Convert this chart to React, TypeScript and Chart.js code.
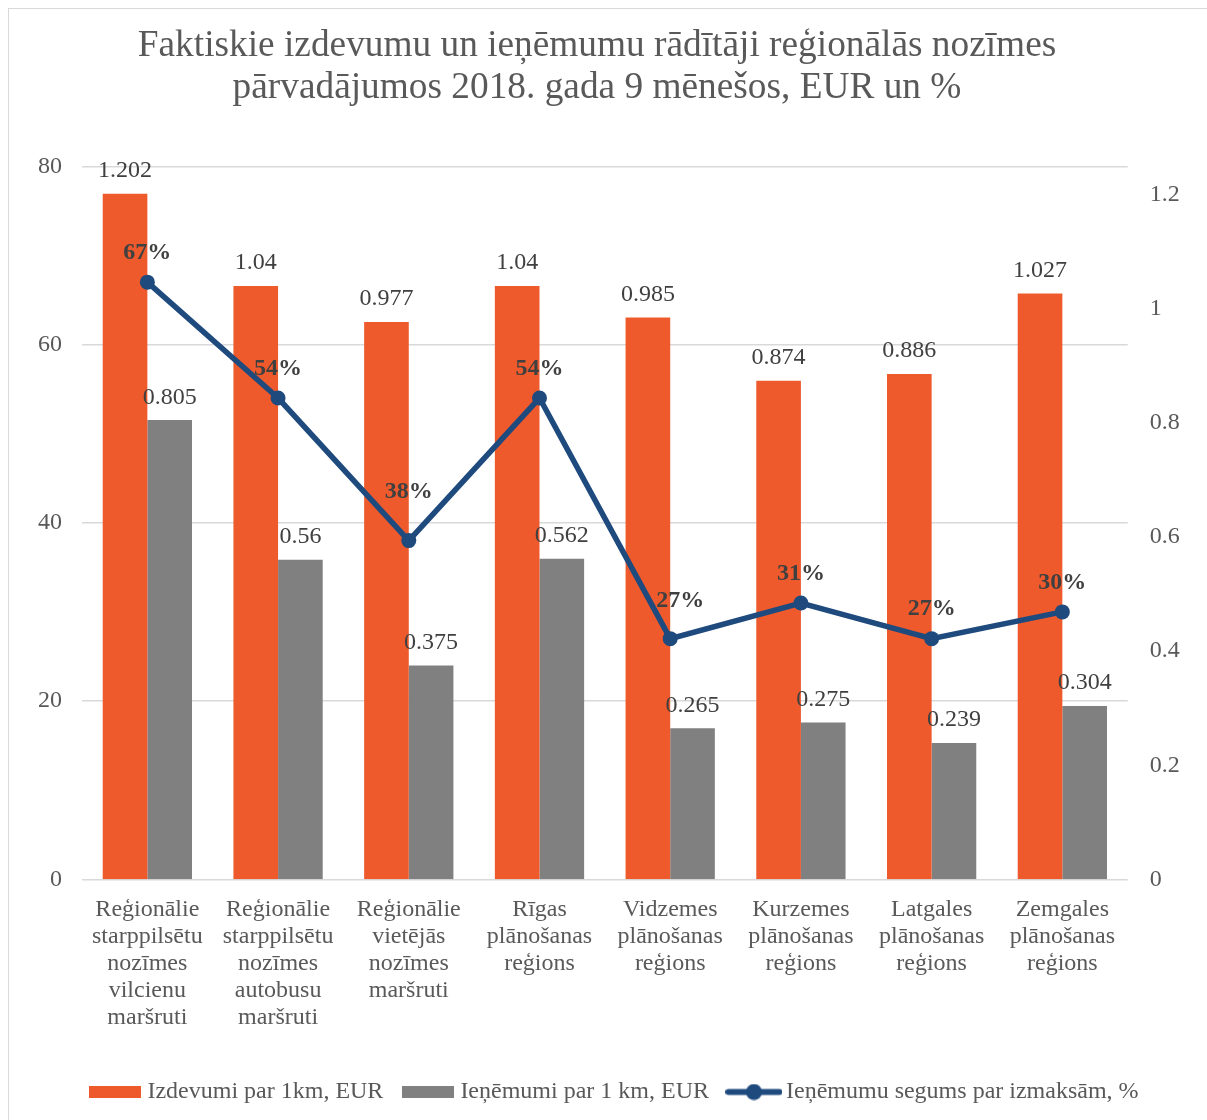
import React, { useEffect, useRef } from 'react';
import { Chart, registerables } from 'chart.js';

Chart.register(...registerables);

const titleLines: string[] = [
  'Faktiskie izdevumu un ieņēmumu rādītāji reģionālās nozīmes',
  'pārvadājumos 2018. gada 9 mēnešos, EUR un %',
];

const categories: string[][] = [
  ['Reģionālie', 'starppilsētu', 'nozīmes', 'vilcienu', 'maršruti'],
  ['Reģionālie', 'starppilsētu', 'nozīmes', 'autobusu', 'maršruti'],
  ['Reģionālie', 'vietējās', 'nozīmes', 'maršruti'],
  ['Rīgas', 'plānošanas', 'reģions'],
  ['Vidzemes', 'plānošanas', 'reģions'],
  ['Kurzemes', 'plānošanas', 'reģions'],
  ['Latgales', 'plānošanas', 'reģions'],
  ['Zemgales', 'plānošanas', 'reģions'],
];

const seriesNames: string[] = [
  'Izdevumi par 1km, EUR',
  'Ieņēmumi par 1 km, EUR',
  'Ieņēmumu segums par izmaksām, %',
];

const expenses: number[] = [1.202, 1.04, 0.977, 1.04, 0.985, 0.874, 0.886, 1.027];
const revenues: number[] = [0.805, 0.56, 0.375, 0.562, 0.265, 0.275, 0.239, 0.304];
const coverage: number[] = [67, 54, 38, 54, 27, 31, 27, 30];

const leftAxis = { min: 0, max: 80, step: 20 };
const rightAxis = { min: 0, max: 1.25, step: 0.2 };

// per-point placement of the % labels (as moved by hand in the original)
const pctLabelDx: number[] = [0, 0, 0, 0, 10, 0, 0, 0];
const pctLabelLift: number[] = [23.4, 23.4, 42.4, 23.4, 31.4, 23.4, 23.4, 23.4];

const ORANGE = '#EE5A2C';
const GRAY = '#808080';
const NAVY = '#1F4A7E';
const TEXT = '#595959';
const LABEL = '#404040';
const FONT = "'Liberation Serif', 'Times New Roman', serif";

function makeRect(color: string, w: number, h: number): HTMLCanvasElement {
  const c = document.createElement('canvas');
  c.width = w;
  c.height = h;
  const x = c.getContext('2d')!;
  x.fillStyle = color;
  x.fillRect(0, 0, w, h);
  return c;
}

function makeLineMarker(color: string): HTMLCanvasElement {
  const c = document.createElement('canvas');
  c.width = 57;
  c.height = 17;
  const x = c.getContext('2d')!;
  x.strokeStyle = color;
  x.lineWidth = 6;
  x.lineCap = 'round';
  x.beginPath();
  x.moveTo(3, 8.5);
  x.lineTo(54, 8.5);
  x.stroke();
  x.fillStyle = color;
  x.beginPath();
  x.arc(28.5, 8.5, 8, 0, Math.PI * 2);
  x.fill();
  return c;
}

const valueLabels = {
  id: 'valueLabels',
  afterDatasetsDraw(chart: any) {
    const ctx = chart.ctx;
    ctx.save();
    ctx.textAlign = 'center';
    ctx.textBaseline = 'alphabetic';
    chart.data.datasets.forEach((ds: any, di: number) => {
      const meta = chart.getDatasetMeta(di);
      if (meta.hidden) return;
      meta.data.forEach((el: any, i: number) => {
        const v = ds.data[i];
        if (ds.type === 'line') {
          ctx.font = `bold 24px ${FONT}`;
          ctx.fillStyle = LABEL;
          ctx.fillText(`${v}%`, el.x + pctLabelDx[i], el.y - pctLabelLift[i]);
        } else {
          ctx.font = `24px ${FONT}`;
          ctx.fillStyle = LABEL;
          ctx.fillText(String(v), el.x, el.y - 16.6);
        }
      });
    });
    ctx.restore();
  },
};

// shifts the legend row horizontally to sit where the reference has it
const legendShift = {
  id: 'legendShift',
  afterLayout(chart: any) {
    const lg = chart.legend;
    if (lg) {
      lg.left += 20;
      lg.right += 20;
    }
  },
};

export default function App() {
  const ref = useRef<HTMLCanvasElement | null>(null);

  useEffect(() => {
    if (!ref.current) return;
    const markers = [makeRect(ORANGE, 52, 12), makeRect(GRAY, 52, 12), makeLineMarker(NAVY)];
    const chart = new Chart(ref.current, {
      type: 'bar',
      data: {
        labels: categories,
        datasets: [
          {
            type: 'bar',
            label: seriesNames[0],
            data: expenses,
            backgroundColor: ORANGE,
            borderWidth: 0,
            yAxisID: 'y1',
            categoryPercentage: 0.683,
            barPercentage: 1,
            order: 1,
          },
          {
            type: 'bar',
            label: seriesNames[1],
            data: revenues,
            backgroundColor: GRAY,
            borderWidth: 0,
            yAxisID: 'y1',
            categoryPercentage: 0.683,
            barPercentage: 1,
            order: 1,
          },
          {
            type: 'line',
            label: seriesNames[2],
            data: coverage,
            borderColor: NAVY,
            backgroundColor: NAVY,
            borderWidth: 5.5,
            pointRadius: 7.5,
            pointBackgroundColor: NAVY,
            pointBorderWidth: 0,
            tension: 0,
            yAxisID: 'y',
            order: 0,
          },
        ] as any,
      },
      options: {
        responsive: false,
        animation: false,
        devicePixelRatio: 1,
        layout: { padding: { top: 0, left: 0, right: 22, bottom: 6 } },
        plugins: {
          tooltip: { enabled: false },
          title: {
            display: true,
            text: titleLines,
            color: TEXT,
            font: { family: FONT, size: 37.33, weight: 'normal', lineHeight: 1.125 },
            padding: { top: 16.4, bottom: 56.9 },
          },
          legend: {
            display: true,
            position: 'bottom',
            labels: {
              usePointStyle: true,
              pointStyleWidth: 40,
              padding: 25,
              color: TEXT,
              font: { family: FONT, size: 24 },
              generateLabels: () =>
                seriesNames.map((name, i) => ({
                  text: name,
                  pointStyle: markers[i],
                  fillStyle: 'rgba(0,0,0,0)',
                  strokeStyle: 'rgba(0,0,0,0)',
                  lineWidth: 0,
                  hidden: false,
                  datasetIndex: i,
                  fontColor: TEXT,
                })),
            },
          },
        },
        scales: {
          x: {
            type: 'category',
            offset: true,
            grid: { display: false, drawTicks: false },
            border: { display: false },
            ticks: {
              color: TEXT,
              font: { family: FONT, size: 24, lineHeight: 1.125 },
              padding: 16.5,
              maxRotation: 0,
              minRotation: 0,
              autoSkip: false,
            },
            afterFit: (s: any) => {
              s.height = 175.7;
            },
          },
          y: {
            type: 'linear',
            position: 'left',
            min: leftAxis.min,
            max: leftAxis.max,
            ticks: {
              stepSize: leftAxis.step,
              color: TEXT,
              font: { family: FONT, size: 24 },
              padding: 20,
            },
            grid: { color: '#d9d9d9', lineWidth: 1.5, drawTicks: false },
            border: { display: false },
            afterFit: (s: any) => {
              s.width = 73;
            },
          },
          y1: {
            type: 'linear',
            position: 'right',
            min: rightAxis.min,
            max: rightAxis.max,
            ticks: {
              stepSize: rightAxis.step,
              includeBounds: false,
              color: TEXT,
              font: { family: FONT, size: 24 },
              padding: 22,
              callback: (v: any) => String(Math.round(Number(v) * 100) / 100),
            },
            grid: { display: false, drawTicks: false },
            border: { display: false },
            afterFit: (s: any) => {
              s.width = 57.3;
            },
          },
        },
      } as any,
      plugins: [valueLabels, legendShift],
    });
    return () => chart.destroy();
  }, []);

  return (
    <div
      style={{
        position: 'fixed',
        left: 8,
        top: 8,
        width: 1199,
        height: 1112,
        boxSizing: 'border-box',
        borderTop: '1px solid #d9d9d9',
        borderLeft: '1px solid #d9d9d9',
        background: '#ffffff',
        overflow: 'hidden',
      }}
    >
      <canvas ref={ref} width={1198} height={1111} style={{ display: 'block', width: 1198, height: 1111 }} />
    </div>
  );
}
